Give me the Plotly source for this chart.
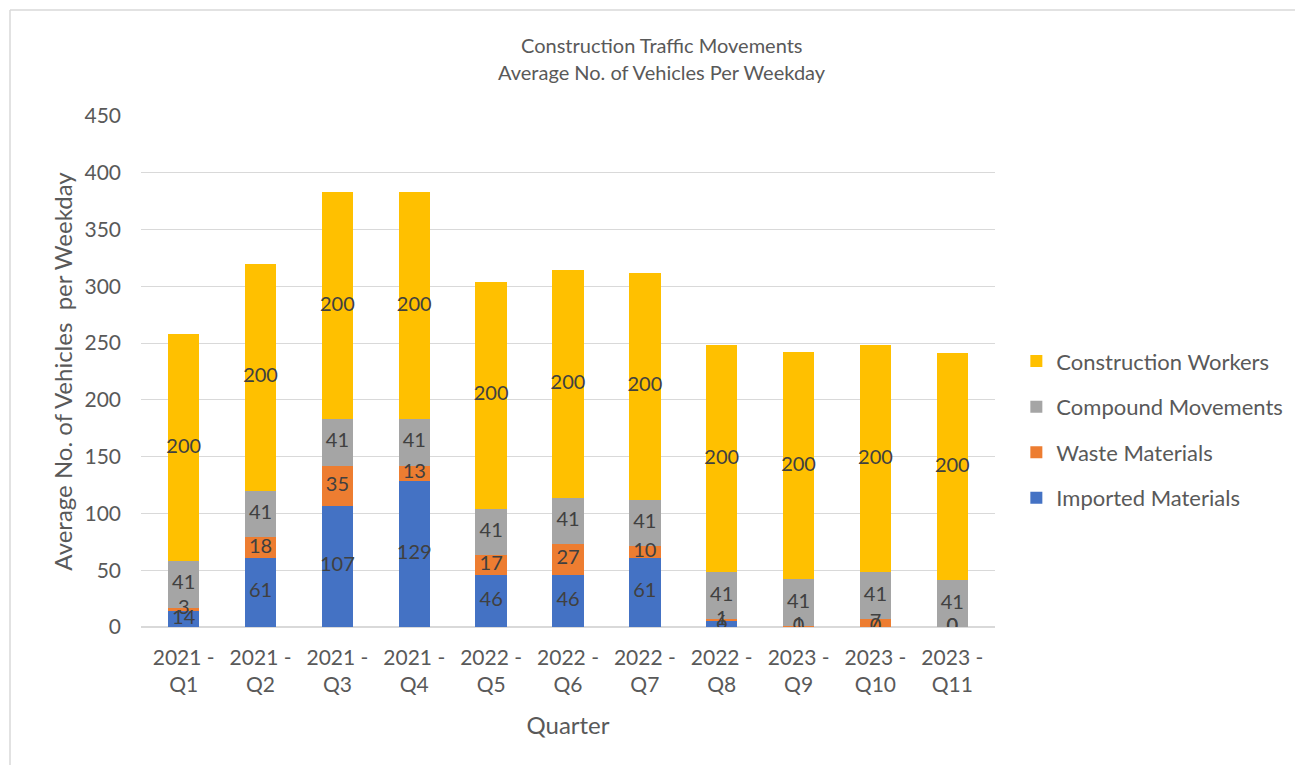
import plotly.graph_objects as go
import numpy as np

quarters = ["2021 -<br>Q1", "2021 -<br>Q2", "2021 -<br>Q3", "2021 -<br>Q4", "2022 -<br>Q5", "2022 -<br>Q6",
            "2022 -<br>Q7", "2022 -<br>Q8", "2023 -<br>Q9", "2023 -<br>Q10", "2023 -<br>Q11"]
imported = [14, 61, 107, 129, 46, 46, 61, 6, 0, 0, 0]
waste = [3, 18, 35, 13, 17, 27, 10, 1, 1, 7, 0]
compound = [41, 41, 41, 41, 41, 41, 41, 41, 41, 41, 41]
workers = [200, 200, 200, 200, 200, 200, 200, 200, 200, 200, 200]

series = [
    ("Imported Materials", imported, "#4472C4"),
    ("Waste Materials", waste, "#ED7D31"),
    ("Compound Movements", compound, "#A5A5A5"),
    ("Construction Workers", workers, "#FFC000"),
]

FONT = "Lato, Carlito, Calibri, sans-serif"
fig = go.Figure()
base = np.zeros(len(quarters))
n = len(series)
for i, (name, vals, col) in enumerate(series):
    v = np.array(vals, dtype=float)
    fig.add_trace(go.Bar(x=quarters, y=vals, name=name, marker=dict(color=col, line=dict(width=0)),
                         legendgroup=name, legendrank=n - i, hoverinfo="y+name"))
    fig.add_trace(go.Scatter(x=quarters, y=base + v / 2, mode="text", text=[str(x) for x in vals],
                             textfont=dict(family=FONT, size=20, color="#404040"),
                             showlegend=False, hoverinfo="skip"))
    base = base + v

PL, PT, PW, PH = 133, 108, 854, 511

fig.update_layout(
    barmode="stack",
    bargap=0.59,
    width=1303, height=765,
    margin=dict(l=PL, r=1303 - PL - PW, t=PT, b=765 - PT - PH),
    paper_bgcolor="white", plot_bgcolor="white",
    font=dict(family=FONT, color="#595959"),
    showlegend=True,
    legend=dict(traceorder="grouped", tracegroupgap=14, x=1.025, y=0.386, yanchor="middle",
                xanchor="left", font=dict(size=22, color="#595959"), itemwidth=30),
    xaxis=dict(tickfont=dict(size=21, color="#595959"), showgrid=False, showline=False,
               ticklabelstandoff=16,
               title=dict(text="Quarter", font=dict(size=24, color="#595959"), standoff=21)),
    yaxis=dict(range=[0, 450], dtick=50, tickfont=dict(size=21, color="#595959"),
               gridcolor="#D9D9D9", gridwidth=1, zeroline=True, zerolinecolor="#D9D9D9",
               showline=False, ticks="", ticklen=0, ticklabelstandoff=19,
               title=dict(text="Average No. of Vehicles  per Weekday", font=dict(size=24, color="#595959"), standoff=5)),
    annotations=[
        dict(text="Construction Traffic Movements", xref="paper", yref="paper",
             x=(662 - 141) / 854, y=(627 - 45) / 511, showarrow=False,
             font=dict(size=20, color="#595959"), xanchor="center", yanchor="middle"),
        dict(text="Average No. of Vehicles Per Weekday", xref="paper", yref="paper",
             x=(662 - 141) / 854, y=(627 - 72) / 511, showarrow=False,
             font=dict(size=20, color="#595959"), xanchor="center", yanchor="middle"),
    ],
    shapes=[
        dict(type="line", xref="paper", yref="paper", x0=(10 - 141) / 854, x1=(1320 - 141) / 854,
             y0=(627 - 10) / 511, y1=(627 - 10) / 511, line=dict(color="#D9D9D9", width=1.5)),
        dict(type="line", xref="paper", yref="paper", x0=(10 - 141) / 854, x1=(10 - 141) / 854,
             y0=(627 - 10) / 511, y1=(627 - 790) / 511, line=dict(color="#D9D9D9", width=1.5)),
    ],
)

fig.write_html("out.html")
